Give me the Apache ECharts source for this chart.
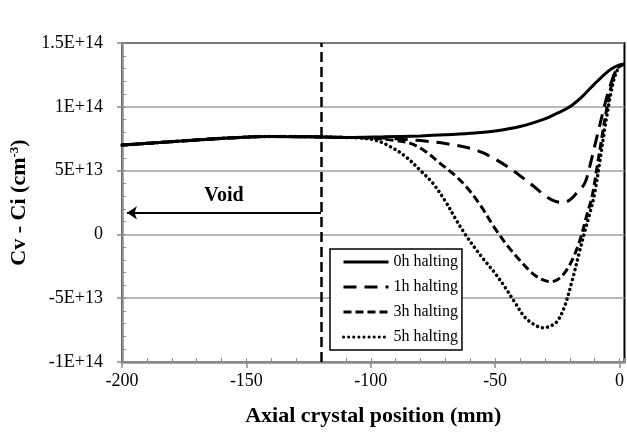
<!DOCTYPE html>
<html>
<head>
<meta charset="utf-8">
<script src="https://cdn.jsdelivr.net/npm/echarts@6/dist/echarts.min.js"></script>
<style>
  html, body { margin: 0; padding: 0; background: #fff; }
  #chart { width: 627px; height: 432px; }
</style>
</head>
<body>
<div id="chart"></div>
<script>
// y values are in units of 1E+13 cm^-3
const seriesNames = ['0h halting', '1h halting', '3h halting', '5h halting']

const pos0h = [-200, -185, -170, -155, -140, -125, -110, -95, -80, -70, -60, -50, -40, -30, -25, -20, -15, -10, -6, -3, 0, 2]
const val0h = [7.0, 7.2, 7.4, 7.58, 7.68, 7.65, 7.6, 7.65, 7.72, 7.8, 7.92, 8.1, 8.45, 9.05, 9.5, 10.0, 10.8, 11.8, 12.55, 13.0, 13.28, 13.35]

const pos1h = [-200, -185, -170, -155, -140, -125, -110, -100, -90, -80, -70, -60, -55, -50, -45, -40, -35, -30, -26, -23, -20, -17, -14, -12, -10, -8, -6, -4, -2, 0, 2]
const val1h = [7.0, 7.2, 7.4, 7.58, 7.68, 7.65, 7.6, 7.58, 7.5, 7.35, 7.12, 6.75, 6.4, 5.9, 5.3, 4.6, 3.85, 3.05, 2.6, 2.5, 2.7, 3.3, 4.0, 5.3, 6.9, 8.5, 10.1, 11.5, 12.6, 13.2, 13.35]

const pos3h = [-200, -185, -170, -155, -140, -125, -110, -100, -90, -84, -78, -72, -66, -61, -56, -50, -45, -40, -35, -31, -28, -25, -22, -19, -16, -13, -11, -9, -7, -5, -3, -1, 2]
const val3h = [7.0, 7.2, 7.4, 7.58, 7.68, 7.65, 7.6, 7.55, 7.35, 7.13, 6.5, 5.55, 4.6, 3.6, 2.3, 0.45, -0.9, -2.05, -3.05, -3.55, -3.7, -3.55, -3.0, -2.0, -0.5, 1.6, 3.0, 5.3, 7.7, 10.0, 11.9, 13.0, 13.35]

const pos5h = [-200, -185, -170, -155, -140, -125, -110, -104, -98, -92, -86, -80, -75, -70, -66, -62, -58, -54, -50, -46, -42, -38, -34, -31, -28, -25, -22, -19, -16, -14, -12, -10, -8, -6, -4, -2, 0, 2]
const val5h = [7.0, 7.2, 7.4, 7.58, 7.68, 7.65, 7.6, 7.55, 7.38, 6.86, 6.1, 5.0, 4.0, 2.6, 1.25, 0.0, -1.1, -2.1, -3.05, -4.15, -5.35, -6.5, -7.1, -7.31, -7.2, -6.8, -5.6, -3.6, -1.3, 0.2, 1.6, 3.2, 5.6, 8.2, 10.5, 12.3, 13.15, 13.35]

const xTicks = [-200, -150, -100, -50, 0]
const yTickValues = [-10, -5, 0, 5, 10, 15]
const yTickLabels = ['-1E+14', '-5E+13', '0', '5E+13', '1E+14', '1.5E+14']

const voidEdge = -120 // dashed boundary
const arrowTip = -198
const arrowLevel = 1.69

const serif = '"Liberation Serif", "Times New Roman", serif'
const axisGrey = '#8c8c8c'

function zip(xs, ys) {
  return xs.map((x, i) => [x, ys[i]])
}

const lineStyles = [
  { width: 3, type: 'solid' },
  { width: 3, type: [13, 8] },
  { width: 3, type: [8, 4] },
  { width: 3.5, type: [0.1, 5], cap: 'round' }
]

const chart = echarts.init(document.getElementById('chart'))

function curve(i, xs, ys, extra) {
  return Object.assign({
    name: seriesNames[i],
    type: 'line',
    data: zip(xs, ys),
    smooth: 0.35,
    symbol: 'none',
    lineStyle: lineStyles[i]
  }, extra || {})
}

const option = {
  animation: false,
  color: ['#000'],
  grid: {
    left: 122,
    right: 2,
    top: 43,
    bottom: 70,
    show: true,
    borderColor: '#000',
    borderWidth: 2
  },
  legend: {
    orient: 'vertical',
    left: 330,
    top: 249,
    padding: [5, 4, 5, 12],
    itemWidth: 45,
    itemHeight: 14,
    itemGap: 9,
    borderColor: '#000',
    borderWidth: 1.5,
    borderRadius: 0,
    backgroundColor: '#fff',
    itemStyle: { color: 'rgba(0,0,0,0)', borderWidth: 0, opacity: 0 },
    lineStyle: { width: 3 },
    textStyle: { fontFamily: serif, fontSize: 16, color: '#000' },
    data: seriesNames
  },
  xAxis: [{
    type: 'value',
    min: -200,
    max: 2,
    interval: 50,
    name: 'Axial crystal position (mm)',
    nameLocation: 'middle',
    nameGap: 43,
    nameTextStyle: { fontFamily: serif, fontSize: 22, fontWeight: 'bold', color: '#000' },
    axisLine: { show: true, onZero: false, lineStyle: { color: axisGrey, width: 2.5 } },
    axisTick: { show: true, inside: false, length: 6, customValues: xTicks, lineStyle: { color: axisGrey, width: 1.5 } },
    axisLabel: {
      margin: 10,
      fontFamily: serif,
      fontSize: 18,
      color: '#000',
      customValues: xTicks
    },
    splitLine: { show: false }
  }, {
    // inner minor ticks
    type: 'value',
    position: 'bottom',
    min: -200,
    max: 2,
    interval: 10,
    axisLine: { show: false, onZero: false },
    axisTick: { show: true, inside: true, length: 4, lineStyle: { color: axisGrey, width: 1 } },
    axisLabel: { show: false },
    splitLine: { show: false }
  }],
  yAxis: [{
    type: 'value',
    min: -10,
    max: 15,
    interval: 5,
    name: 'Cv - Ci (cm{sup|-3})',
    nameLocation: 'middle',
    nameGap: 76,
    nameTextStyle: {
      fontFamily: serif,
      fontSize: 22,
      fontWeight: 'bold',
      color: '#000',
      rich: {
        sup: { fontFamily: serif, fontSize: 13, fontWeight: 'bold', color: '#000', verticalAlign: 'top' }
      }
    },
    axisLine: { show: true, onZero: false, lineStyle: { color: axisGrey, width: 2.5 } },
    axisTick: { show: true, inside: false, length: 5, lineStyle: { color: axisGrey, width: 1.5 } },
    axisLabel: {
      margin: 19,
      fontFamily: serif,
      fontSize: 18,
      color: '#000',
      formatter: function (v) {
        const i = yTickValues.indexOf(v)
        return i >= 0 ? yTickLabels[i] : ''
      }
    },
    splitLine: { show: true, lineStyle: { color: '#a0a0a0', width: 1.5 } }
  }, {
    type: 'value',
    position: 'left',
    min: -10,
    max: 15,
    interval: 1,
    axisLine: { show: false, onZero: false },
    axisTick: { show: true, inside: true, length: 4, lineStyle: { color: axisGrey, width: 1 } },
    axisLabel: { show: false },
    splitLine: { show: false }
  }],
  series: [
    curve(0, pos0h, val0h, {
      z: 5,
      markLine: {
        silent: true,
        symbol: ['none', 'none'],
        label: { show: false },
        lineStyle: { color: '#000', width: 2.5, type: [10, 5] },
        data: [{ xAxis: voidEdge }]
      }
    }),
    curve(1, pos1h, val1h, {
      markLine: {
        silent: true,
        symbol: ['none', 'arrow'],
        symbolSize: 10,
        lineStyle: { color: '#000', width: 2, type: 'solid' },
        label: {
          show: true,
          position: 'middle',
          formatter: 'Void',
          distance: 7,
          fontFamily: serif,
          fontSize: 20,
          fontWeight: 'bold',
          color: '#000'
        },
        data: [[{ coord: [voidEdge, arrowLevel] }, { coord: [arrowTip, arrowLevel] }]]
      }
    }),
    curve(2, pos3h, val3h),
    curve(3, pos5h, val5h)
  ]
}

chart.setOption(option)
</script>
</body>
</html>
